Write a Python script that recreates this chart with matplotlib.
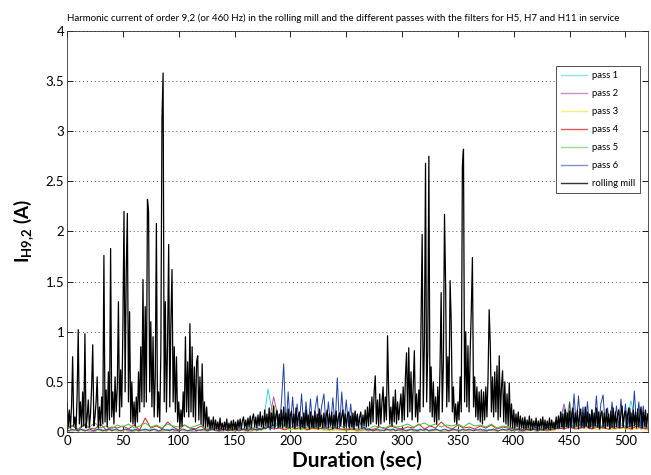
import numpy as np
import matplotlib
matplotlib.use("Agg")
import matplotlib.pyplot as plt
from matplotlib.ticker import MultipleLocator, FuncFormatter

plt.rcParams['font.family'] = ['Lato', 'DejaVu Sans']
plt.rcParams['mathtext.fontset'] = 'custom'
plt.rcParams['mathtext.rm'] = 'Lato'
plt.rcParams['mathtext.bf'] = 'Lato:bold'

# rolling mill, one value per second, t = 0..520
rolling_mill = [
    0.30, 0.05, 0.22, 0.04, 0.25, 0.75, 0.06, 0.15, 0.03, 0.35,
    1.02, 0.08, 0.30, 0.05, 0.40, 0.06, 0.98, 0.04, 0.15, 0.32,
    0.05, 0.18, 0.45, 0.87, 0.06, 0.15, 0.30, 0.55, 0.04, 0.25,
    0.06, 0.35, 0.08, 1.76, 0.10, 0.42, 0.05, 0.60, 0.12, 1.83,
    0.15, 0.40, 0.08, 0.55, 0.20, 0.45, 1.30, 0.15, 0.62, 0.25,
    1.05, 2.20, 0.40, 1.60, 2.18, 0.30, 1.20, 0.10, 0.50, 0.08,
    0.30, 0.06, 0.35, 0.10, 0.60, 0.20, 0.85, 0.30, 1.52, 0.25,
    1.25, 0.30, 2.32, 2.20, 0.40, 1.10, 0.25, 0.95, 0.15, 0.55,
    2.08, 0.15, 0.40, 0.10, 0.80, 3.13, 3.58, 0.30, 1.30, 0.20,
    0.90, 1.87, 0.25, 1.10, 1.62, 0.30, 0.85, 0.20, 0.75, 0.10,
    0.30, 0.05, 0.22, 0.06, 0.40, 0.15, 0.95, 0.20, 0.70, 0.15,
    1.08, 0.20, 0.85, 0.15, 0.65, 0.10, 0.70, 0.76, 0.12, 0.55,
    0.08, 0.68, 0.06, 0.30, 0.04, 0.25, 0.05, 0.15, 0.03, 0.12,
    0.04, 0.15, 0.02, 0.12, 0.03, 0.10, 0.02, 0.14, 0.03, 0.09,
    0.02, 0.10, 0.03, 0.13, 0.02, 0.09, 0.03, 0.11, 0.02, 0.12,
    0.03, 0.10, 0.02, 0.12, 0.04, 0.13, 0.03, 0.11, 0.15, 0.04,
    0.12, 0.03, 0.14, 0.05, 0.16, 0.04, 0.14, 0.18, 0.05, 0.15,
    0.04, 0.17, 0.06, 0.20, 0.05, 0.16, 0.04, 0.22, 0.06, 0.18,
    0.05, 0.24, 0.04, 0.19, 0.06, 0.26, 0.05, 0.17, 0.21, 0.04,
    0.18, 0.05, 0.22, 0.04, 0.25, 0.06, 0.19, 0.05, 0.23, 0.04,
    0.17, 0.21, 0.05, 0.18, 0.04, 0.24, 0.06, 0.16, 0.20, 0.03,
    0.15, 0.05, 0.19, 0.04, 0.22, 0.06, 0.17, 0.03, 0.20, 0.05,
    0.16, 0.04, 0.21, 0.05, 0.18, 0.03, 0.23, 0.06, 0.17, 0.04,
    0.19, 0.05, 0.16, 0.22, 0.04, 0.18, 0.06, 0.20, 0.03, 0.17,
    0.05, 0.21, 0.04, 0.15, 0.19, 0.06, 0.16, 0.22, 0.04, 0.18,
    0.05, 0.17, 0.20, 0.04, 0.16, 0.05, 0.19, 0.03, 0.21, 0.06,
    0.18, 0.04, 0.15, 0.20, 0.05, 0.17, 0.06, 0.22, 0.05, 0.25,
    0.06, 0.30, 0.08, 0.35, 0.10, 0.40, 0.56, 0.08, 0.32, 0.06,
    0.38, 0.08, 0.30, 0.45, 0.10, 0.35, 0.12, 0.96, 0.40, 0.08,
    0.25, 0.06, 0.35, 0.10, 0.42, 0.08, 0.30, 0.12, 0.26, 0.38,
    0.10, 0.45, 0.12, 0.55, 0.79, 0.15, 0.84, 0.20, 0.60, 0.12,
    0.45, 0.81, 0.15, 0.38, 0.10, 0.42, 0.20, 1.07, 1.97, 0.25,
    0.90, 2.68, 0.30, 0.80, 2.75, 0.20, 0.65, 0.15, 0.50, 0.10,
    0.35, 0.08, 0.45, 0.12, 0.65, 1.39, 0.20, 0.70, 2.17, 1.47,
    0.25, 0.75, 0.30, 1.51, 1.10, 0.20, 0.45, 0.10, 0.28, 0.08,
    0.30, 0.12, 0.55, 0.20, 2.65, 2.82, 0.30, 1.00, 0.25, 0.86,
    0.20, 0.80, 1.22, 1.74, 0.25, 0.55, 0.15, 0.45, 0.12, 0.40,
    0.10, 0.42, 0.08, 0.40, 0.12, 0.45, 0.15, 0.55, 1.22, 0.87,
    0.20, 0.55, 0.15, 0.60, 0.20, 0.66, 0.12, 0.76, 0.15, 0.45,
    0.61, 0.10, 0.50, 0.08, 0.38, 0.06, 0.49, 0.05, 0.28, 0.04,
    0.22, 0.04, 0.18, 0.05, 0.20, 0.03, 0.16, 0.04, 0.14, 0.03,
    0.15, 0.03, 0.12, 0.04, 0.16, 0.02, 0.13, 0.03, 0.11, 0.04,
    0.14, 0.02, 0.11, 0.03, 0.13, 0.04, 0.15, 0.02, 0.12, 0.03,
    0.11, 0.03, 0.14, 0.02, 0.12, 0.04, 0.10, 0.03, 0.15, 0.04,
    0.16, 0.04, 0.20, 0.05, 0.18, 0.03, 0.22, 0.05, 0.19, 0.04,
    0.21, 0.05, 0.18, 0.24, 0.04, 0.19, 0.06, 0.22, 0.03, 0.17,
    0.23, 0.05, 0.19, 0.04, 0.25, 0.06, 0.20, 0.04, 0.18, 0.05,
    0.22, 0.04, 0.19, 0.06, 0.24, 0.05, 0.20, 0.03, 0.18, 0.21,
    0.05, 0.19, 0.04, 0.23, 0.06, 0.18, 0.03, 0.21, 0.05, 0.24,
    0.04, 0.20, 0.05, 0.17, 0.22, 0.04, 0.19, 0.26, 0.05, 0.18,
    0.21, 0.04, 0.17, 0.24, 0.05, 0.19, 0.03, 0.22, 0.06, 0.20,
    0.04, 0.23, 0.05, 0.17, 0.25, 0.04, 0.20, 0.06, 0.22, 0.05,
    0.18,
]

# passes 1-5, one value every 5 s, t = 0..520
pass1 = [
    0.02, 0.01, 0.03, 0.02, 0.01, 0.02, 0.03, 0.01, 0.02, 0.02,
    0.01, 0.03, 0.02, 0.01, 0.02, 0.03, 0.02, 0.01, 0.02, 0.03,
    0.02, 0.01, 0.02, 0.03, 0.01, 0.02, 0.02, 0.01, 0.03, 0.02,
    0.01, 0.02, 0.03, 0.02, 0.01, 0.03, 0.43, 0.12, 0.05, 0.03,
    0.02, 0.04, 0.03, 0.02, 0.05, 0.03, 0.02, 0.04, 0.03, 0.02,
    0.03, 0.02, 0.01, 0.02, 0.03, 0.02, 0.01, 0.02, 0.03, 0.02,
    0.01, 0.02, 0.03, 0.02, 0.01, 0.02, 0.03, 0.01, 0.02, 0.02,
    0.03, 0.01, 0.02, 0.02, 0.01, 0.03, 0.02, 0.01, 0.02, 0.03,
    0.02, 0.01, 0.02, 0.03, 0.01, 0.02, 0.02, 0.03, 0.05, 0.24,
    0.08, 0.05, 0.12, 0.06, 0.04, 0.10, 0.05, 0.07, 0.04, 0.09,
    0.06, 0.31, 0.05, 0.08, 0.04,
]
pass2 = [
    0.01, 0.02, 0.01, 0.02, 0.01, 0.01, 0.02, 0.01, 0.02, 0.01,
    0.02, 0.01, 0.01, 0.02, 0.01, 0.02, 0.01, 0.01, 0.02, 0.01,
    0.01, 0.02, 0.01, 0.01, 0.02, 0.01, 0.02, 0.01, 0.01, 0.02,
    0.01, 0.02, 0.01, 0.01, 0.02, 0.03, 0.05, 0.35, 0.10, 0.06,
    0.04, 0.08, 0.05, 0.03, 0.06, 0.04, 0.03, 0.05, 0.04, 0.03,
    0.02, 0.03, 0.01, 0.02, 0.01, 0.02, 0.01, 0.02, 0.01, 0.02,
    0.01, 0.02, 0.01, 0.01, 0.02, 0.01, 0.02, 0.01, 0.01, 0.02,
    0.01, 0.02, 0.01, 0.02, 0.01, 0.01, 0.02, 0.01, 0.02, 0.01,
    0.02, 0.01, 0.01, 0.02, 0.01, 0.02, 0.01, 0.02, 0.04, 0.28,
    0.06, 0.04, 0.08, 0.05, 0.03, 0.07, 0.04, 0.06, 0.03, 0.05,
    0.04, 0.06, 0.03, 0.05, 0.04,
]
pass3 = [
    0.01, 0.01, 0.02, 0.01, 0.01, 0.02, 0.01, 0.01, 0.02, 0.01,
    0.01, 0.02, 0.01, 0.01, 0.02, 0.01, 0.02, 0.01, 0.01, 0.02,
    0.02, 0.01, 0.01, 0.02, 0.01, 0.01, 0.02, 0.01, 0.02, 0.01,
    0.01, 0.02, 0.01, 0.01, 0.02, 0.02, 0.04, 0.27, 0.08, 0.03,
    0.02, 0.03, 0.02, 0.04, 0.02, 0.03, 0.02, 0.01, 0.02, 0.02,
    0.01, 0.02, 0.01, 0.01, 0.02, 0.01, 0.01, 0.02, 0.01, 0.02,
    0.01, 0.01, 0.02, 0.01, 0.02, 0.01, 0.01, 0.02, 0.01, 0.01,
    0.02, 0.01, 0.01, 0.02, 0.01, 0.02, 0.01, 0.01, 0.02, 0.01,
    0.01, 0.02, 0.01, 0.01, 0.02, 0.01, 0.02, 0.01, 0.03, 0.05,
    0.30, 0.05, 0.04, 0.03, 0.05, 0.02, 0.04, 0.03, 0.02, 0.04,
    0.03, 0.02, 0.04, 0.03, 0.02,
]
pass4 = [
    0.03, 0.06, 0.02, 0.07, 0.04, 0.03, 0.08, 0.02, 0.05, 0.04,
    0.06, 0.03, 0.07, 0.02, 0.14, 0.04, 0.06, 0.03, 0.10, 0.05,
    0.02, 0.07, 0.04, 0.03, 0.06, 0.02, 0.04, 0.03, 0.02, 0.03,
    0.02, 0.03, 0.02, 0.04, 0.02, 0.03, 0.05, 0.03, 0.04, 0.02,
    0.05, 0.03, 0.06, 0.02, 0.04, 0.03, 0.05, 0.02, 0.04, 0.03,
    0.02, 0.03, 0.02, 0.04, 0.02, 0.03, 0.05, 0.03, 0.06, 0.04,
    0.03, 0.05, 0.04, 0.08, 0.03, 0.06, 0.04, 0.10, 0.05, 0.03,
    0.07, 0.04, 0.05, 0.03, 0.06, 0.04, 0.07, 0.03, 0.05, 0.04,
    0.03, 0.02, 0.03, 0.02, 0.03, 0.02, 0.02, 0.03, 0.04, 0.03,
    0.05, 0.03, 0.04, 0.06, 0.03, 0.05, 0.04, 0.03, 0.06, 0.04,
    0.05, 0.03, 0.06, 0.04, 0.03,
]
pass5 = [
    0.04, 0.07, 0.03, 0.08, 0.05, 0.09, 0.04, 0.06, 0.03, 0.07,
    0.05, 0.08, 0.04, 0.06, 0.09, 0.05, 0.07, 0.04, 0.08, 0.06,
    0.05, 0.07, 0.04, 0.06, 0.08, 0.03, 0.05, 0.04, 0.03, 0.05,
    0.03, 0.04, 0.03, 0.05, 0.04, 0.03, 0.06, 0.04, 0.09, 0.05,
    0.04, 0.06, 0.03, 0.05, 0.04, 0.07, 0.03, 0.05, 0.04, 0.06,
    0.03, 0.04, 0.03, 0.05, 0.03, 0.06, 0.05, 0.04, 0.07, 0.05,
    0.06, 0.08, 0.05, 0.07, 0.09, 0.06, 0.08, 0.05, 0.07, 0.06,
    0.08, 0.05, 0.09, 0.06, 0.07, 0.05, 0.08, 0.04, 0.06, 0.05,
    0.04, 0.03, 0.05, 0.03, 0.04, 0.03, 0.05, 0.04, 0.06, 0.05,
    0.07, 0.05, 0.08, 0.06, 0.07, 0.05, 0.06, 0.08, 0.05, 0.07,
    0.06, 0.05, 0.08, 0.06, 0.05,
]
# pass 6, one value every 2 s, t = 0..520
pass6 = [
    0.02, 0.01, 0.03, 0.02, 0.02, 0.01, 0.03, 0.02, 0.01, 0.02,
    0.03, 0.02, 0.01, 0.02, 0.03, 0.02, 0.01, 0.02, 0.02, 0.03,
    0.01, 0.02, 0.03, 0.02, 0.01, 0.02, 0.03, 0.02, 0.02, 0.01,
    0.02, 0.03, 0.01, 0.02, 0.02, 0.03, 0.02, 0.01, 0.02, 0.03,
    0.02, 0.01, 0.02, 0.03, 0.02, 0.02, 0.01, 0.03, 0.02, 0.02,
    0.01, 0.02, 0.03, 0.02, 0.01, 0.02, 0.02, 0.03, 0.01, 0.02,
    0.02, 0.03, 0.02, 0.01, 0.02, 0.03, 0.02, 0.02, 0.01, 0.02,
    0.03, 0.02, 0.01, 0.02, 0.02, 0.03, 0.02, 0.01, 0.02, 0.03,
    0.02, 0.01, 0.03, 0.02, 0.03, 0.02, 0.04, 0.02, 0.05, 0.03,
    0.06, 0.02, 0.09, 0.03, 0.22, 0.05, 0.30, 0.68, 0.04, 0.40,
    0.05, 0.35, 0.03, 0.28, 0.06, 0.38, 0.04, 0.30, 0.05, 0.33,
    0.04, 0.22, 0.36, 0.05, 0.26, 0.38, 0.04, 0.30, 0.06, 0.34,
    0.05, 0.54, 0.04, 0.40, 0.06, 0.32, 0.05, 0.28, 0.04, 0.20,
    0.06, 0.12, 0.03, 0.05, 0.02, 0.03, 0.02, 0.01, 0.02, 0.03,
    0.02, 0.02, 0.01, 0.03, 0.02, 0.02, 0.03, 0.01, 0.02, 0.02,
    0.03, 0.02, 0.01, 0.02, 0.03, 0.02, 0.02, 0.01, 0.03, 0.02,
    0.02, 0.03, 0.01, 0.02, 0.02, 0.03, 0.02, 0.01, 0.02, 0.03,
    0.02, 0.01, 0.02, 0.03, 0.02, 0.02, 0.01, 0.03, 0.02, 0.02,
    0.03, 0.02, 0.01, 0.02, 0.02, 0.03, 0.02, 0.02, 0.01, 0.02,
    0.02, 0.03, 0.02, 0.01, 0.02, 0.03, 0.02, 0.02, 0.03, 0.01,
    0.02, 0.02, 0.03, 0.02, 0.01, 0.02, 0.03, 0.02, 0.02, 0.03,
    0.02, 0.01, 0.03, 0.02, 0.03, 0.05, 0.02, 0.08, 0.03, 0.12,
    0.03, 0.15, 0.04, 0.22, 0.05, 0.30, 0.04, 0.38, 0.06, 0.36,
    0.04, 0.25, 0.05, 0.30, 0.03, 0.22, 0.06, 0.36, 0.04, 0.28,
    0.37, 0.05, 0.24, 0.03, 0.30, 0.06, 0.26, 0.04, 0.33, 0.05,
    0.28, 0.04, 0.24, 0.06, 0.41, 0.05, 0.30, 0.03, 0.26, 0.05,
    0.18,
]

labels = ["pass 1", "pass 2", "pass 3", "pass 4", "pass 5", "pass 6", "rolling mill"]
colors = ["#40d0e0", "#b050b0", "#e8e020", "#e02020", "#40c040", "#2040a8", "black"]
legend_colors = ["#8fe3ec", "#c98fcb", "#f0f07a", "#e45a5a", "#9ad99a", "#7f8fcf", "#333333"]

t_mill = np.arange(len(rolling_mill))
t_pass = np.arange(len(pass1)) * 5
t_p6 = np.arange(len(pass6)) * 2

fig = plt.figure(figsize=(6.51, 4.75), dpi=100)
ax = fig.add_axes([0.103, 0.0905, 0.892, 0.8445])

series = [(t_pass, pass1), (t_pass, pass2), (t_pass, pass3),
          (t_pass, pass4), (t_pass, pass5), (t_p6, pass6), (t_mill, rolling_mill)]
for (tt, yy), lab, col in zip(series, labels, colors):
    lw = 0.9 if lab == "rolling mill" else 0.7
    ax.plot(tt, yy, color=col, lw=lw, label=lab)

ax.set_xlim(0, 520)
ax.set_ylim(0, 4)
ax.xaxis.set_major_locator(MultipleLocator(50))
ax.yaxis.set_major_locator(MultipleLocator(0.5))
ax.yaxis.set_major_formatter(FuncFormatter(lambda v, p: ("%g" % v)))
ax.tick_params(direction="in", top=True, right=True, length=4, width=0.6,
               labelsize=9.5, pad=2)
ax.grid(axis="y", linestyle=(0, (1, 3)), color="#555555", lw=0.7)
for s in ax.spines.values():
    s.set_linewidth(0.6)
    s.set_color("#333333")

ax.set_title("Harmonic current of order 9,2 (or 460 Hz) in the rolling mill and the different "
             "passes with the filters for H5, H7 and H11 in service",
             fontsize=7.0, pad=7, x=0.475)
ax.set_xlabel("Duration (sec)", fontsize=15, fontweight="bold", labelpad=3)
ax.set_ylabel(r"$\mathbf{I_{H9{,}2}}$ (A)", fontsize=13.5, fontweight="bold", labelpad=7)

leg = ax.legend(loc="upper right", bbox_to_anchor=(0.995, 0.923), fontsize=6.8,
                fancybox=False, framealpha=1, edgecolor="#333333",
                handlelength=2.8, handletextpad=0.5, labelspacing=0.95, borderpad=0.5)
leg.get_frame().set_linewidth(0.6)
for line, col in zip(leg.get_lines(), legend_colors):
    line.set_color(col)
    line.set_linewidth(1.0)

fig.savefig("out.png", dpi=100)
